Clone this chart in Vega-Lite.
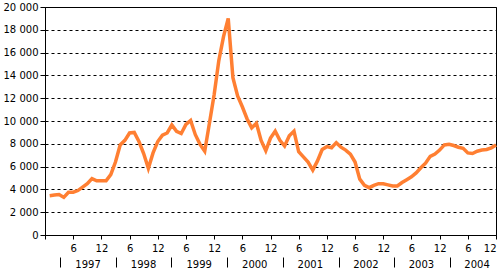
{
  "$schema": "https://vega.github.io/schema/vega-lite/v6.json",
  "width": 451,
  "height": 228,
  "autosize": {"type": "none"},
  "padding": {"left": 45, "top": 7, "right": 3, "bottom": 34},
  "config": {
    "view": {"stroke": "#000000", "strokeWidth": 1},
    "axis": {"labelFont": "DejaVu Sans", "labelFontSize": 10, "labelColor": "#000000", "domainColor": "#000000", "tickColor": "#000000", "title": null}
  },
  "data": {"values": [
    {"m": 1, "v": 3450}, {"m": 2, "v": 3500}, {"m": 3, "v": 3550}, {"m": 4, "v": 3300},
    {"m": 5, "v": 3750}, {"m": 6, "v": 3750}, {"m": 7, "v": 3900}, {"m": 8, "v": 4200},
    {"m": 9, "v": 4500}, {"m": 10, "v": 4950}, {"m": 11, "v": 4750}, {"m": 12, "v": 4750},
    {"m": 13, "v": 4750}, {"m": 14, "v": 5300}, {"m": 15, "v": 6400}, {"m": 16, "v": 7900},
    {"m": 17, "v": 8300}, {"m": 18, "v": 8950}, {"m": 19, "v": 9000}, {"m": 20, "v": 8200},
    {"m": 21, "v": 7150}, {"m": 22, "v": 5850}, {"m": 23, "v": 7200}, {"m": 24, "v": 8200},
    {"m": 25, "v": 8750}, {"m": 26, "v": 8950}, {"m": 27, "v": 9650}, {"m": 28, "v": 9100},
    {"m": 29, "v": 8900}, {"m": 30, "v": 9700}, {"m": 31, "v": 10050}, {"m": 32, "v": 8800},
    {"m": 33, "v": 7950}, {"m": 34, "v": 7350}, {"m": 35, "v": 9800}, {"m": 36, "v": 12300},
    {"m": 37, "v": 15300}, {"m": 38, "v": 17400}, {"m": 39, "v": 19000}, {"m": 40, "v": 13800},
    {"m": 41, "v": 12200}, {"m": 42, "v": 11250}, {"m": 43, "v": 10200}, {"m": 44, "v": 9400},
    {"m": 45, "v": 9800}, {"m": 46, "v": 8300}, {"m": 47, "v": 7400}, {"m": 48, "v": 8500},
    {"m": 49, "v": 9100}, {"m": 50, "v": 8300}, {"m": 51, "v": 7800}, {"m": 52, "v": 8700},
    {"m": 53, "v": 9100}, {"m": 54, "v": 7300}, {"m": 55, "v": 6850}, {"m": 56, "v": 6400},
    {"m": 57, "v": 5700}, {"m": 58, "v": 6500}, {"m": 59, "v": 7500}, {"m": 60, "v": 7750},
    {"m": 61, "v": 7650}, {"m": 62, "v": 8100}, {"m": 63, "v": 7700}, {"m": 64, "v": 7450},
    {"m": 65, "v": 7100}, {"m": 66, "v": 6400}, {"m": 67, "v": 4900}, {"m": 68, "v": 4350},
    {"m": 69, "v": 4150}, {"m": 70, "v": 4350}, {"m": 71, "v": 4500}, {"m": 72, "v": 4500},
    {"m": 73, "v": 4400}, {"m": 74, "v": 4300}, {"m": 75, "v": 4300}, {"m": 76, "v": 4600},
    {"m": 77, "v": 4850}, {"m": 78, "v": 5100}, {"m": 79, "v": 5450}, {"m": 80, "v": 5900},
    {"m": 81, "v": 6300}, {"m": 82, "v": 6900}, {"m": 83, "v": 7100}, {"m": 84, "v": 7450},
    {"m": 85, "v": 7900}, {"m": 86, "v": 7950}, {"m": 87, "v": 7850}, {"m": 88, "v": 7700},
    {"m": 89, "v": 7600}, {"m": 90, "v": 7200}, {"m": 91, "v": 7150}, {"m": 92, "v": 7350},
    {"m": 93, "v": 7450}, {"m": 94, "v": 7500}, {"m": 95, "v": 7650}, {"m": 96, "v": 7900}
  ]},
  "layer": [
    {
      "mark": {"type": "line", "color": "#FF7F32", "strokeWidth": 3.5},
      "encoding": {
        "x": {
          "field": "m", "type": "quantitative",
          "scale": {"domain": [0, 96], "nice": false, "zero": false},
          "axis": {
            "orient": "bottom",
            "values": [0, 6, 12, 18, 24, 30, 36, 42, 48, 54, 60, 66, 72, 78, 84, 90, 96],
            "labelExpr": "datum.value == 0 ? '' : (datum.value % 12 == 0 ? '12' : '6')",
            "grid": false, "tickSize": 4, "labelPadding": 4,
            "labelFlush": true, "labelOverlap": false, "title": null
          }
        },
        "y": {
          "field": "v", "type": "quantitative",
          "scale": {"domain": [0, 20000], "nice": false},
          "axis": {
            "values": [0, 2000, 4000, 6000, 8000, 10000, 12000, 14000, 16000, 18000, 20000],
            "labelExpr": "replace(format(datum.value, ','), ',', ' ')",
            "grid": true, "gridDash": [3, 3], "gridColor": "#000000", "gridOpacity": 1,
            "tickSize": 5, "labelPadding": 2, "title": null, "labelFlush": false
          }
        }
      }
    },
    {
      "mark": {"type": "point", "opacity": 0},
      "encoding": {
        "x": {
          "field": "m", "type": "quantitative",
          "axis": {
            "orient": "bottom",
            "values": [9.05, 20.88, 32.71, 44.54, 56.37, 68.2, 80.03, 91.86],
            "labelExpr": "'' + (1997 + floor(datum.value / 12))",
            "ticks": false, "domain": false, "grid": false, "offset": 24, "labelPadding": 0,
            "labelFlush": false, "labelOverlap": false, "title": null
          }
        }
      }
    },
    {
      "mark": {"type": "point", "opacity": 0},
      "encoding": {
        "x": {
          "field": "m", "type": "quantitative",
          "axis": {
            "orient": "bottom",
            "values": [3.19, 15.05, 26.91, 38.77, 50.63, 62.49, 74.35, 86.21],
            "labels": false, "ticks": true, "tickSize": 10, "domain": false, "grid": false, "offset": 22,
            "title": null
          }
        }
      }
    }
  ],
  "resolve": {"axis": {"x": "independent"}}
}
